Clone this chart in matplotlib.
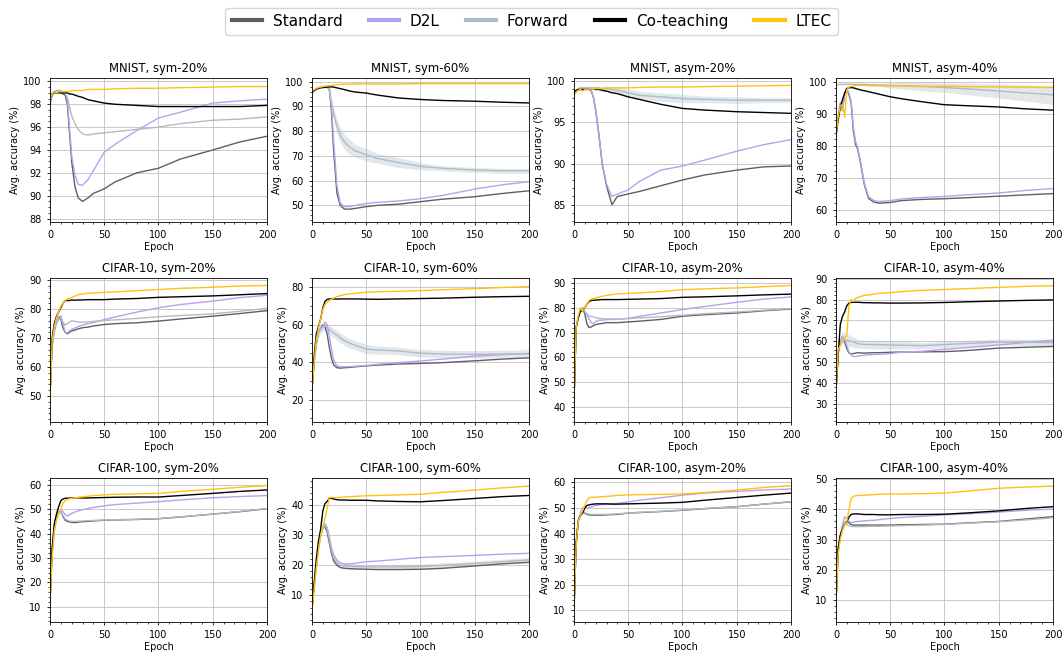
import matplotlib
matplotlib.use("Agg")
import matplotlib.pyplot as plt
from matplotlib.ticker import AutoMinorLocator
from matplotlib.lines import Line2D

epochs = [0, 2, 4, 6, 8, 10, 12, 14, 16, 18, 20, 23, 26, 30, 35, 40,
          50, 60, 80, 100, 120, 150, 175, 200]

methods = ["Standard", "D2L", "Forward", "Co-teaching", "LTEC"]
colors = ["#5f5f5f", "#b6a1f0", "#aebcc6", "black", "#ffc20e"]

titles = ["MNIST, sym-20%", "MNIST, sym-60%", "MNIST, asym-20%", "MNIST, asym-40%",
          "CIFAR-10, sym-20%", "CIFAR-10, sym-60%", "CIFAR-10, asym-20%", "CIFAR-10, asym-40%",
          "CIFAR-100, sym-20%", "CIFAR-100, sym-60%", "CIFAR-100, asym-20%", "CIFAR-100, asym-40%"]

# --- MNIST, sym-20% ---
mnist_sym20_standard = [98.0, 98.8, 99.0, 99.0, 99.1, 99.0, 98.9, 98.8, 98.0, 95.5, 93.0, 90.8, 89.8, 89.5, 89.8, 90.2, 90.6, 91.2, 92.0, 92.4, 93.2, 94.0, 94.7, 95.2]
mnist_sym20_d2l = [98.3, 98.9, 99.1, 99.2, 99.2, 99.2, 99.1, 99.0, 98.4, 96.0, 93.5, 91.8, 91.0, 90.9, 91.4, 92.2, 93.8, 94.5, 95.7, 96.8, 97.3, 98.1, 98.3, 98.45]
mnist_sym20_forward = [98.2, 98.9, 99.1, 99.2, 99.2, 99.2, 99.1, 99.0, 98.6, 97.8, 97.0, 96.3, 95.8, 95.4, 95.3, 95.4, 95.5, 95.6, 95.8, 96.0, 96.3, 96.6, 96.7, 96.9]
mnist_sym20_coteach = [98.5, 98.9, 99.0, 99.0, 99.0, 99.0, 99.0, 99.0, 99.0, 98.9, 98.9, 98.8, 98.7, 98.6, 98.4, 98.3, 98.1, 98.0, 97.9, 97.8, 97.8, 97.8, 97.8, 97.9]
mnist_sym20_ltec = [98.5, 98.9, 99.0, 99.0, 99.1, 99.1, 99.1, 99.1, 99.1, 99.1, 99.2, 99.2, 99.2, 99.2, 99.3, 99.3, 99.3, 99.35, 99.4, 99.4, 99.45, 99.5, 99.55, 99.55]

# --- MNIST, sym-60% ---
mnist_sym60_standard = [95.5, 96.5, 97.0, 97.5, 97.8, 98.0, 98.0, 98.0, 97.0, 88.0, 72.0, 55.0, 50.0, 48.5, 48.5, 48.8, 49.5, 50.0, 50.5, 51.5, 52.5, 53.5, 54.8, 55.9]
mnist_sym60_d2l = [95.5, 96.5, 97.0, 97.5, 97.8, 98.0, 98.0, 98.0, 97.5, 90.0, 76.0, 58.0, 51.0, 49.5, 49.5, 50.0, 50.8, 51.2, 51.8, 52.7, 54.0, 56.6, 58.3, 59.6]
mnist_sym60_forward = [95.5, 96.5, 97.0, 97.5, 97.8, 98.0, 98.0, 97.8, 96.5, 91.5, 87.0, 82.0, 78.5, 75.5, 73.5, 72.0, 70.5, 69.0, 67.3, 65.8, 65.0, 64.3, 64.0, 64.0]
mnist_sym60_coteach = [95.5, 96.5, 97.0, 97.3, 97.5, 97.6, 97.7, 97.8, 97.9, 97.9, 97.8, 97.5, 97.2, 96.8, 96.2, 95.8, 95.4, 94.6, 93.4, 92.8, 92.4, 92.1, 91.7, 91.4]
mnist_sym60_ltec = [96.0, 96.8, 97.3, 97.6, 97.8, 98.0, 98.2, 98.3, 98.4, 98.5, 98.6, 98.8, 98.9, 99.0, 99.0, 99.1, 99.1, 99.1, 99.1, 99.2, 99.2, 99.2, 99.2, 99.2]
mnist_sym60_forward_sd = [0.3, 0.3, 0.3, 0.3, 0.3, 0.3, 0.3, 0.5, 1.0, 2.0, 2.5, 3.0, 3.0, 3.0, 3.0, 2.5, 2.5, 2.0, 2.0, 1.5, 1.0, 1.0, 1.0, 1.0]

# --- MNIST, asym-20% ---
mnist_asym20_standard = [98.3, 98.8, 99.0, 99.0, 99.0, 99.1, 99.1, 99.0, 98.8, 98.0, 96.5, 93.5, 90.0, 87.3, 85.0, 86.0, 86.3, 86.6, 87.3, 88.0, 88.6, 89.2, 89.6, 89.7]
mnist_asym20_d2l = [98.3, 98.8, 99.0, 99.0, 99.0, 99.1, 99.1, 99.0, 98.8, 98.0, 96.5, 93.5, 90.0, 87.5, 86.0, 86.3, 86.8, 87.8, 89.2, 89.7, 90.4, 91.5, 92.3, 92.9]
mnist_asym20_forward = [98.5, 98.9, 99.1, 99.2, 99.2, 99.2, 99.2, 99.2, 99.2, 99.2, 99.2, 99.2, 99.1, 99.1, 99.0, 98.9, 98.6, 98.3, 98.1, 97.9, 97.8, 97.7, 97.7, 97.7]
mnist_asym20_coteach = [98.5, 98.9, 99.0, 99.0, 99.0, 99.0, 99.0, 99.1, 99.1, 99.1, 99.0, 99.0, 98.9, 98.8, 98.6, 98.5, 98.1, 97.8, 97.2, 96.7, 96.5, 96.3, 96.2, 96.1]
mnist_asym20_ltec = [98.3, 98.7, 98.9, 99.0, 98.8, 99.0, 99.0, 99.1, 99.1, 99.1, 99.1, 99.1, 99.1, 99.2, 99.2, 99.2, 99.2, 99.25, 99.3, 99.3, 99.35, 99.4, 99.45, 99.5]
mnist_asym20_forward_sd = [0.2, 0.2, 0.2, 0.2, 0.2, 0.2, 0.2, 0.2, 0.2, 0.2, 0.2, 0.2, 0.3, 0.3, 0.3, 0.4, 0.5, 0.5, 0.5, 0.5, 0.4, 0.4, 0.3, 0.3]

# --- MNIST, asym-40% ---
mnist_asym40_standard = [83.0, 89.0, 93.0, 91.5, 96.5, 98.0, 96.0, 93.5, 85.0, 80.5, 79.0, 74.0, 68.0, 63.5, 62.3, 62.0, 62.2, 62.8, 63.2, 63.4, 63.7, 64.2, 64.6, 65.0]
mnist_asym40_d2l = [83.0, 89.5, 93.5, 91.0, 96.0, 98.0, 96.5, 94.0, 86.0, 81.5, 79.5, 74.5, 68.5, 64.0, 62.8, 62.5, 62.8, 63.3, 63.8, 64.1, 64.6, 65.2, 66.0, 66.6]
mnist_asym40_forward = [99.0, 99.2, 99.3, 99.3, 99.3, 99.3, 99.3, 99.3, 99.3, 99.3, 99.3, 99.3, 99.3, 99.2, 99.2, 99.1, 99.0, 98.9, 98.6, 98.3, 97.9, 97.2, 96.6, 96.0]
mnist_asym40_coteach = [83.0, 88.0, 92.0, 94.5, 96.5, 98.0, 98.2, 98.3, 98.2, 98.0, 97.8, 97.5, 97.3, 97.0, 96.6, 96.2, 95.4, 94.8, 93.8, 92.9, 92.6, 92.2, 91.6, 91.2]
mnist_asym40_ltec = [83.0, 89.0, 92.5, 93.0, 89.0, 97.5, 98.5, 98.6, 98.8, 98.9, 99.0, 99.0, 99.0, 98.9, 98.9, 98.9, 98.8, 98.8, 98.7, 98.7, 98.6, 98.5, 98.4, 98.3]
mnist_asym40_forward_sd = [0.1, 0.1, 0.1, 0.1, 0.1, 0.1, 0.1, 0.1, 0.1, 0.1, 0.1, 0.1, 0.1, 0.3, 0.4, 0.5, 0.8, 1.0, 1.3, 1.5, 1.8, 2.2, 2.6, 3.0]

# --- CIFAR-10, sym-20% ---
cifar10_sym20_standard = [50.0, 68.0, 73.0, 76.0, 77.5, 76.5, 73.5, 72.0, 71.5, 72.0, 72.5, 72.8, 73.2, 73.6, 73.8, 74.2, 74.7, 75.0, 75.3, 75.9, 76.6, 77.6, 78.5, 79.5]
cifar10_sym20_d2l = [50.0, 67.0, 72.0, 75.0, 76.5, 77.0, 75.0, 72.0, 71.8, 72.5, 73.0, 73.5, 74.0, 74.5, 75.0, 75.4, 76.4, 77.3, 79.0, 80.5, 81.6, 82.8, 84.0, 84.8]
cifar10_sym20_forward = [50.0, 68.0, 73.0, 76.0, 77.5, 77.6, 75.5, 74.5, 75.0, 75.5, 76.0, 75.8, 75.6, 75.5, 75.6, 75.8, 76.1, 76.3, 76.8, 77.4, 77.8, 78.4, 79.3, 80.3]
cifar10_sym20_coteach = [50.0, 70.0, 75.0, 77.5, 79.0, 80.5, 82.0, 83.0, 83.0, 83.0, 83.2, 83.1, 83.2, 83.2, 83.3, 83.3, 83.3, 83.5, 83.7, 84.1, 84.3, 84.6, 85.0, 85.4]
cifar10_sym20_ltec = [48.0, 69.0, 74.0, 77.0, 79.0, 81.0, 82.0, 83.0, 83.5, 83.8, 84.0, 84.5, 85.0, 85.3, 85.5, 85.6, 85.8, 86.0, 86.4, 86.8, 87.2, 87.6, 88.0, 88.2]

# --- CIFAR-10, sym-60% ---
cifar10_sym60_standard = [25.0, 40.0, 50.0, 56.0, 58.0, 60.0, 59.0, 55.0, 48.0, 42.0, 38.5, 37.0, 36.8, 37.0, 37.2, 37.5, 38.0, 38.4, 39.0, 39.3, 39.7, 40.7, 41.6, 42.3]
cifar10_sym60_d2l = [25.0, 40.0, 50.0, 56.0, 58.0, 59.0, 61.5, 60.0, 54.0, 47.0, 41.0, 38.0, 37.6, 37.5, 37.6, 37.8, 38.2, 38.8, 39.8, 40.6, 41.6, 43.2, 44.0, 44.6]
cifar10_sym60_forward = [25.0, 40.0, 50.0, 55.0, 57.5, 58.5, 59.3, 58.5, 57.5, 56.5, 55.5, 54.5, 53.0, 51.5, 50.0, 49.0, 47.0, 46.5, 46.0, 44.8, 44.3, 44.2, 44.3, 44.6]
cifar10_sym60_coteach = [25.0, 43.0, 55.0, 59.0, 63.0, 69.0, 72.5, 73.5, 73.8, 73.8, 73.8, 73.7, 73.8, 73.8, 73.8, 73.8, 73.7, 73.6, 73.8, 74.0, 74.2, 74.7, 75.0, 75.2]
cifar10_sym60_ltec = [25.0, 40.0, 52.0, 58.0, 63.0, 68.0, 71.0, 72.0, 73.0, 73.5, 74.3, 75.0, 75.5, 76.1, 76.5, 76.8, 77.4, 77.6, 77.9, 78.2, 78.7, 79.3, 79.9, 80.4]
cifar10_sym60_forward_sd = [0.5, 1.0, 2.0, 2.0, 2.0, 2.0, 2.0, 2.0, 2.0, 2.5, 2.5, 2.5, 2.5, 2.5, 2.5, 2.5, 2.5, 2.2, 2.0, 2.0, 2.0, 2.0, 2.0, 2.0]

# --- CIFAR-10, asym-20% ---
cifar10_asym20_standard = [42.0, 72.0, 76.0, 78.5, 80.0, 77.5, 73.5, 72.0, 72.3, 72.8, 73.2, 73.5, 73.7, 74.0, 74.0, 74.0, 74.3, 74.6, 75.3, 76.6, 77.2, 77.9, 78.8, 79.5]
cifar10_asym20_d2l = [42.0, 72.0, 76.0, 79.0, 80.0, 78.5, 77.0, 75.5, 74.0, 73.5, 74.5, 75.0, 75.0, 75.2, 75.3, 75.3, 75.8, 76.5, 77.9, 79.3, 80.5, 82.2, 83.5, 84.4]
cifar10_asym20_forward = [42.0, 72.0, 76.0, 79.0, 80.0, 78.5, 77.5, 76.6, 76.5, 76.3, 76.0, 75.8, 75.6, 75.5, 75.5, 75.5, 75.6, 75.9, 76.4, 77.0, 77.6, 78.3, 79.0, 79.7]
cifar10_asym20_coteach = [42.0, 72.0, 76.0, 79.0, 78.5, 80.0, 81.5, 82.5, 83.0, 83.0, 83.1, 83.2, 83.3, 83.3, 83.3, 83.3, 83.4, 83.5, 83.7, 84.2, 84.4, 84.8, 85.2, 85.5]
cifar10_asym20_ltec = [42.0, 72.0, 77.0, 80.0, 78.5, 80.0, 81.5, 83.0, 83.5, 83.8, 84.0, 84.3, 84.6, 85.0, 85.3, 85.6, 85.8, 86.0, 86.5, 87.3, 87.6, 88.0, 88.5, 89.0]

# --- CIFAR-10, asym-40% ---
cifar10_asym40_standard = [36.0, 55.0, 60.0, 62.0, 60.0, 56.5, 54.5, 54.0, 54.2, 54.4, 54.6, 54.5, 54.4, 54.5, 54.6, 54.6, 54.8, 54.9, 55.0, 55.1, 55.6, 56.8, 57.2, 57.6]
cifar10_asym40_d2l = [36.0, 55.0, 60.0, 62.5, 61.0, 58.0, 55.0, 53.5, 52.8, 52.7, 53.0, 53.2, 53.4, 53.6, 53.7, 53.8, 54.2, 54.8, 55.3, 56.2, 57.0, 58.3, 59.5, 60.6]
cifar10_asym40_forward = [36.0, 55.0, 60.0, 62.0, 61.0, 60.5, 60.2, 60.0, 59.7, 59.3, 58.9, 58.7, 58.6, 58.5, 58.5, 58.4, 58.3, 58.2, 58.0, 58.5, 59.0, 59.7, 59.6, 59.4]
cifar10_asym40_coteach = [36.0, 53.0, 68.0, 72.0, 74.0, 77.0, 78.3, 78.6, 78.7, 78.7, 78.7, 78.6, 78.5, 78.5, 78.4, 78.4, 78.3, 78.3, 78.4, 78.6, 78.9, 79.3, 79.6, 79.8]
cifar10_asym40_ltec = [36.0, 56.0, 58.0, 60.0, 61.5, 63.0, 77.0, 80.0, 79.0, 80.5, 81.0, 81.5, 82.0, 82.2, 82.6, 83.0, 83.3, 83.8, 84.4, 84.8, 85.2, 85.8, 86.3, 86.6]
cifar10_asym40_forward_sd = [0.5, 1.0, 2.0, 3.0, 3.0, 3.0, 3.0, 2.5, 2.5, 2.5, 2.0, 2.0, 2.0, 2.0, 2.0, 2.0, 2.0, 1.8, 1.5, 1.5, 1.5, 1.5, 1.5, 1.5]

# --- CIFAR-100, sym-20% ---
cifar100_sym20_standard = [12.0, 32.0, 42.0, 46.0, 48.5, 49.0, 47.0, 45.5, 45.0, 44.8, 44.6, 44.5, 44.7, 44.9, 45.0, 45.2, 45.5, 45.6, 45.8, 46.1, 46.8, 48.0, 49.0, 50.2]
cifar100_sym20_d2l = [12.0, 33.0, 43.0, 47.0, 49.0, 49.5, 49.0, 47.8, 47.2, 47.8, 48.3, 48.8, 49.3, 49.8, 50.3, 50.7, 51.4, 51.9, 52.5, 53.1, 53.8, 54.7, 55.2, 55.6]
cifar100_sym20_forward = [12.0, 32.0, 42.0, 46.0, 48.5, 49.0, 47.5, 46.0, 45.5, 45.2, 45.0, 45.0, 45.1, 45.2, 45.3, 45.4, 45.6, 45.7, 45.9, 46.2, 46.9, 48.0, 49.1, 50.3]
cifar100_sym20_coteach = [12.0, 34.0, 44.0, 48.0, 51.0, 53.5, 54.2, 54.5, 54.5, 54.6, 54.6, 54.7, 54.7, 54.6, 54.6, 54.7, 54.8, 54.9, 55.0, 55.0, 55.6, 56.5, 57.3, 57.9]
cifar100_sym20_ltec = [12.0, 30.0, 41.0, 45.5, 48.0, 50.0, 52.5, 53.5, 54.0, 54.3, 54.5, 54.7, 54.9, 55.1, 55.3, 55.6, 55.9, 56.1, 56.3, 56.5, 57.3, 58.2, 59.0, 59.7]

# --- CIFAR-100, sym-60% ---
cifar100_sym60_standard = [5.5, 13.0, 20.0, 26.0, 30.0, 32.5, 33.0, 31.0, 27.5, 24.0, 21.5, 20.0, 19.3, 19.0, 18.9, 18.8, 18.7, 18.6, 18.6, 18.7, 19.0, 19.8, 20.5, 21.0]
cifar100_sym60_d2l = [5.5, 13.0, 20.0, 26.0, 30.0, 32.5, 33.8, 32.5, 29.5, 26.0, 23.5, 21.8, 20.8, 20.4, 20.5, 20.7, 21.2, 21.4, 22.0, 22.6, 22.9, 23.3, 23.7, 24.0]
cifar100_sym60_forward = [5.5, 13.0, 20.0, 26.0, 30.0, 32.5, 33.5, 32.0, 28.5, 25.0, 22.5, 20.8, 20.0, 19.8, 19.7, 19.6, 19.5, 19.5, 19.5, 19.6, 20.0, 20.6, 21.2, 21.8]
cifar100_sym60_coteach = [5.5, 14.0, 22.0, 28.0, 32.0, 38.0, 40.5, 41.2, 42.3, 42.3, 42.0, 41.8, 41.7, 41.7, 41.6, 41.6, 41.6, 41.4, 41.2, 41.1, 41.5, 42.2, 42.8, 43.2]
cifar100_sym60_ltec = [5.0, 12.0, 19.0, 25.0, 30.0, 33.0, 35.5, 39.0, 42.5, 42.6, 42.5, 42.5, 42.6, 42.7, 42.8, 42.9, 43.1, 43.2, 43.4, 43.6, 44.2, 45.0, 45.7, 46.3]
cifar100_sym60_forward_sd = [0.3, 0.5, 0.8, 0.8, 0.8, 0.8, 0.8, 0.8, 0.8, 0.8, 0.8, 0.8, 0.8, 0.8, 0.8, 0.8, 0.8, 0.8, 0.8, 0.8, 0.8, 0.8, 0.8, 0.8]

# --- CIFAR-100, asym-20% ---
cifar100_asym20_standard = [10.0, 36.0, 45.0, 47.5, 48.5, 48.0, 47.5, 47.3, 47.2, 47.2, 47.2, 47.2, 47.2, 47.3, 47.4, 47.5, 48.0, 48.2, 48.6, 49.1, 49.7, 50.5, 51.5, 52.4]
cifar100_asym20_d2l = [10.0, 36.0, 45.5, 48.0, 50.0, 50.5, 49.8, 50.2, 50.5, 50.7, 51.0, 51.2, 51.4, 51.5, 51.7, 51.8, 52.3, 53.0, 54.0, 55.0, 55.8, 56.5, 57.0, 57.4]
cifar100_asym20_forward = [10.0, 36.0, 45.0, 47.5, 48.5, 48.2, 47.8, 47.6, 47.5, 47.5, 47.5, 47.5, 47.5, 47.5, 47.6, 47.7, 48.0, 48.3, 48.7, 49.2, 49.8, 50.5, 51.5, 52.5]
cifar100_asym20_coteach = [10.0, 36.0, 45.0, 47.0, 48.0, 50.0, 51.0, 51.2, 51.4, 51.5, 51.6, 51.6, 51.6, 51.6, 51.5, 51.5, 51.6, 51.7, 51.9, 52.2, 53.0, 54.1, 55.0, 55.8]
cifar100_asym20_ltec = [10.0, 35.0, 45.0, 47.0, 49.0, 51.0, 53.0, 54.0, 54.2, 54.2, 54.2, 54.3, 54.4, 54.5, 54.7, 54.9, 55.1, 55.2, 55.3, 55.5, 56.0, 57.0, 58.0, 58.7]

# --- CIFAR-100, asym-40% ---
cifar100_asym40_standard = [9.0, 26.0, 31.0, 33.5, 35.5, 36.0, 35.5, 35.0, 34.8, 34.8, 34.8, 34.8, 34.8, 34.8, 34.8, 34.8, 34.8, 34.9, 35.0, 35.1, 35.5, 36.0, 36.8, 37.6]
cifar100_asym40_d2l = [9.0, 27.0, 31.0, 35.0, 37.5, 37.0, 36.0, 35.7, 35.8, 35.9, 36.0, 36.1, 36.2, 36.3, 36.4, 36.6, 37.0, 37.3, 37.7, 38.2, 38.5, 39.1, 39.7, 40.1]
cifar100_asym40_forward = [9.0, 26.0, 31.0, 34.0, 35.8, 35.0, 34.6, 34.4, 34.3, 34.3, 34.3, 34.3, 34.3, 34.4, 34.4, 34.4, 34.5, 34.6, 34.8, 35.0, 35.4, 35.9, 36.5, 37.2]
cifar100_asym40_coteach = [9.0, 27.0, 31.5, 33.5, 35.0, 36.0, 37.5, 38.3, 38.5, 38.5, 38.5, 38.4, 38.3, 38.3, 38.3, 38.2, 38.2, 38.3, 38.3, 38.4, 38.8, 39.5, 40.3, 40.9]
cifar100_asym40_ltec = [9.0, 25.0, 30.0, 33.0, 35.0, 36.0, 40.0, 43.5, 44.3, 44.5, 44.6, 44.6, 44.7, 44.8, 44.9, 45.0, 45.1, 45.1, 45.2, 45.4, 46.0, 47.0, 47.4, 47.7]

# y ranges / ticks per panel (row-major)
ylims = [(87.7, 100.3), (43.3, 101.5), (82.9, 100.4), (56.1, 101.3),
         (41.0, 90.8), (8.0, 85.0), (34.0, 92.0), (21.5, 90.3),
         (3.8, 62.8), (1.2, 49.0), (5.5, 61.7), (2.7, 50.4)]
yticks = [list(range(88, 101, 2)), list(range(50, 101, 10)), [85, 90, 95, 100], list(range(60, 101, 10)),
          list(range(50, 91, 10)), [20, 40, 60, 80], list(range(40, 91, 10)), list(range(30, 91, 10)),
          list(range(10, 61, 10)), [10, 20, 30, 40], list(range(10, 61, 10)), list(range(10, 51, 10))]

panels = [
    [mnist_sym20_standard, mnist_sym20_d2l, mnist_sym20_forward, mnist_sym20_coteach, mnist_sym20_ltec],
    [mnist_sym60_standard, mnist_sym60_d2l, mnist_sym60_forward, mnist_sym60_coteach, mnist_sym60_ltec],
    [mnist_asym20_standard, mnist_asym20_d2l, mnist_asym20_forward, mnist_asym20_coteach, mnist_asym20_ltec],
    [mnist_asym40_standard, mnist_asym40_d2l, mnist_asym40_forward, mnist_asym40_coteach, mnist_asym40_ltec],
    [cifar10_sym20_standard, cifar10_sym20_d2l, cifar10_sym20_forward, cifar10_sym20_coteach, cifar10_sym20_ltec],
    [cifar10_sym60_standard, cifar10_sym60_d2l, cifar10_sym60_forward, cifar10_sym60_coteach, cifar10_sym60_ltec],
    [cifar10_asym20_standard, cifar10_asym20_d2l, cifar10_asym20_forward, cifar10_asym20_coteach, cifar10_asym20_ltec],
    [cifar10_asym40_standard, cifar10_asym40_d2l, cifar10_asym40_forward, cifar10_asym40_coteach, cifar10_asym40_ltec],
    [cifar100_sym20_standard, cifar100_sym20_d2l, cifar100_sym20_forward, cifar100_sym20_coteach, cifar100_sym20_ltec],
    [cifar100_sym60_standard, cifar100_sym60_d2l, cifar100_sym60_forward, cifar100_sym60_coteach, cifar100_sym60_ltec],
    [cifar100_asym20_standard, cifar100_asym20_d2l, cifar100_asym20_forward, cifar100_asym20_coteach, cifar100_asym20_ltec],
    [cifar100_asym40_standard, cifar100_asym40_d2l, cifar100_asym40_forward, cifar100_asym40_coteach, cifar100_asym40_ltec],
]
# shaded spread of the Forward curve where it is visible
forward_sd = {1: mnist_sym60_forward_sd, 2: mnist_asym20_forward_sd, 3: mnist_asym40_forward_sd,
              5: cifar10_sym60_forward_sd, 7: cifar10_asym40_forward_sd, 9: cifar100_sym60_forward_sd}

fig, axes = plt.subplots(3, 4, figsize=(10.63, 6.53), dpi=100)
fig.subplots_adjust(left=0.047, right=0.9906, top=0.8806, bottom=0.0475,
                    wspace=0.207, hspace=0.389)

for i, ax in enumerate(axes.flat):
    series = panels[i]
    if i in forward_sd:
        sd = forward_sd[i]
        fw = series[2]
        ax.fill_between(epochs, [v - s for v, s in zip(fw, sd)], [v + s for v, s in zip(fw, sd)],
                        color=colors[2], alpha=0.35, lw=0)
    for vals, c in zip(series, colors):
        ax.plot(epochs, vals, color=c, lw=1.0)
    ax.set_xlim(0, 200)
    ax.set_ylim(*ylims[i])
    ax.set_xticks([0, 50, 100, 150, 200])
    ax.set_yticks(yticks[i])
    ax.xaxis.set_minor_locator(AutoMinorLocator())
    ax.yaxis.set_minor_locator(AutoMinorLocator())
    ax.tick_params(which="major", labelsize=7, length=2.5, width=0.6)
    ax.tick_params(which="minor", length=1.4, width=0.5)
    ax.grid(True, which="major", color="#c0c0c0", lw=0.6)
    ax.set_axisbelow(True)
    for sp in ax.spines.values():
        sp.set_linewidth(0.6)
    ax.set_title(titles[i], fontsize=8.4, pad=4)
    ax.set_xlabel("Epoch", fontsize=7, labelpad=1)
    ax.set_ylabel("Avg. accuracy (%)", fontsize=7, labelpad=2)

handles = [Line2D([], [], color=c, lw=3) for c in colors]
fig.legend(handles, methods, loc="upper center", bbox_to_anchor=(0.5, 1.0), ncol=5,
           fontsize=11, frameon=True, handlelength=2.0, columnspacing=1.7,
           borderpad=0.4, handletextpad=0.7)

fig.savefig("out.png", dpi=100)
